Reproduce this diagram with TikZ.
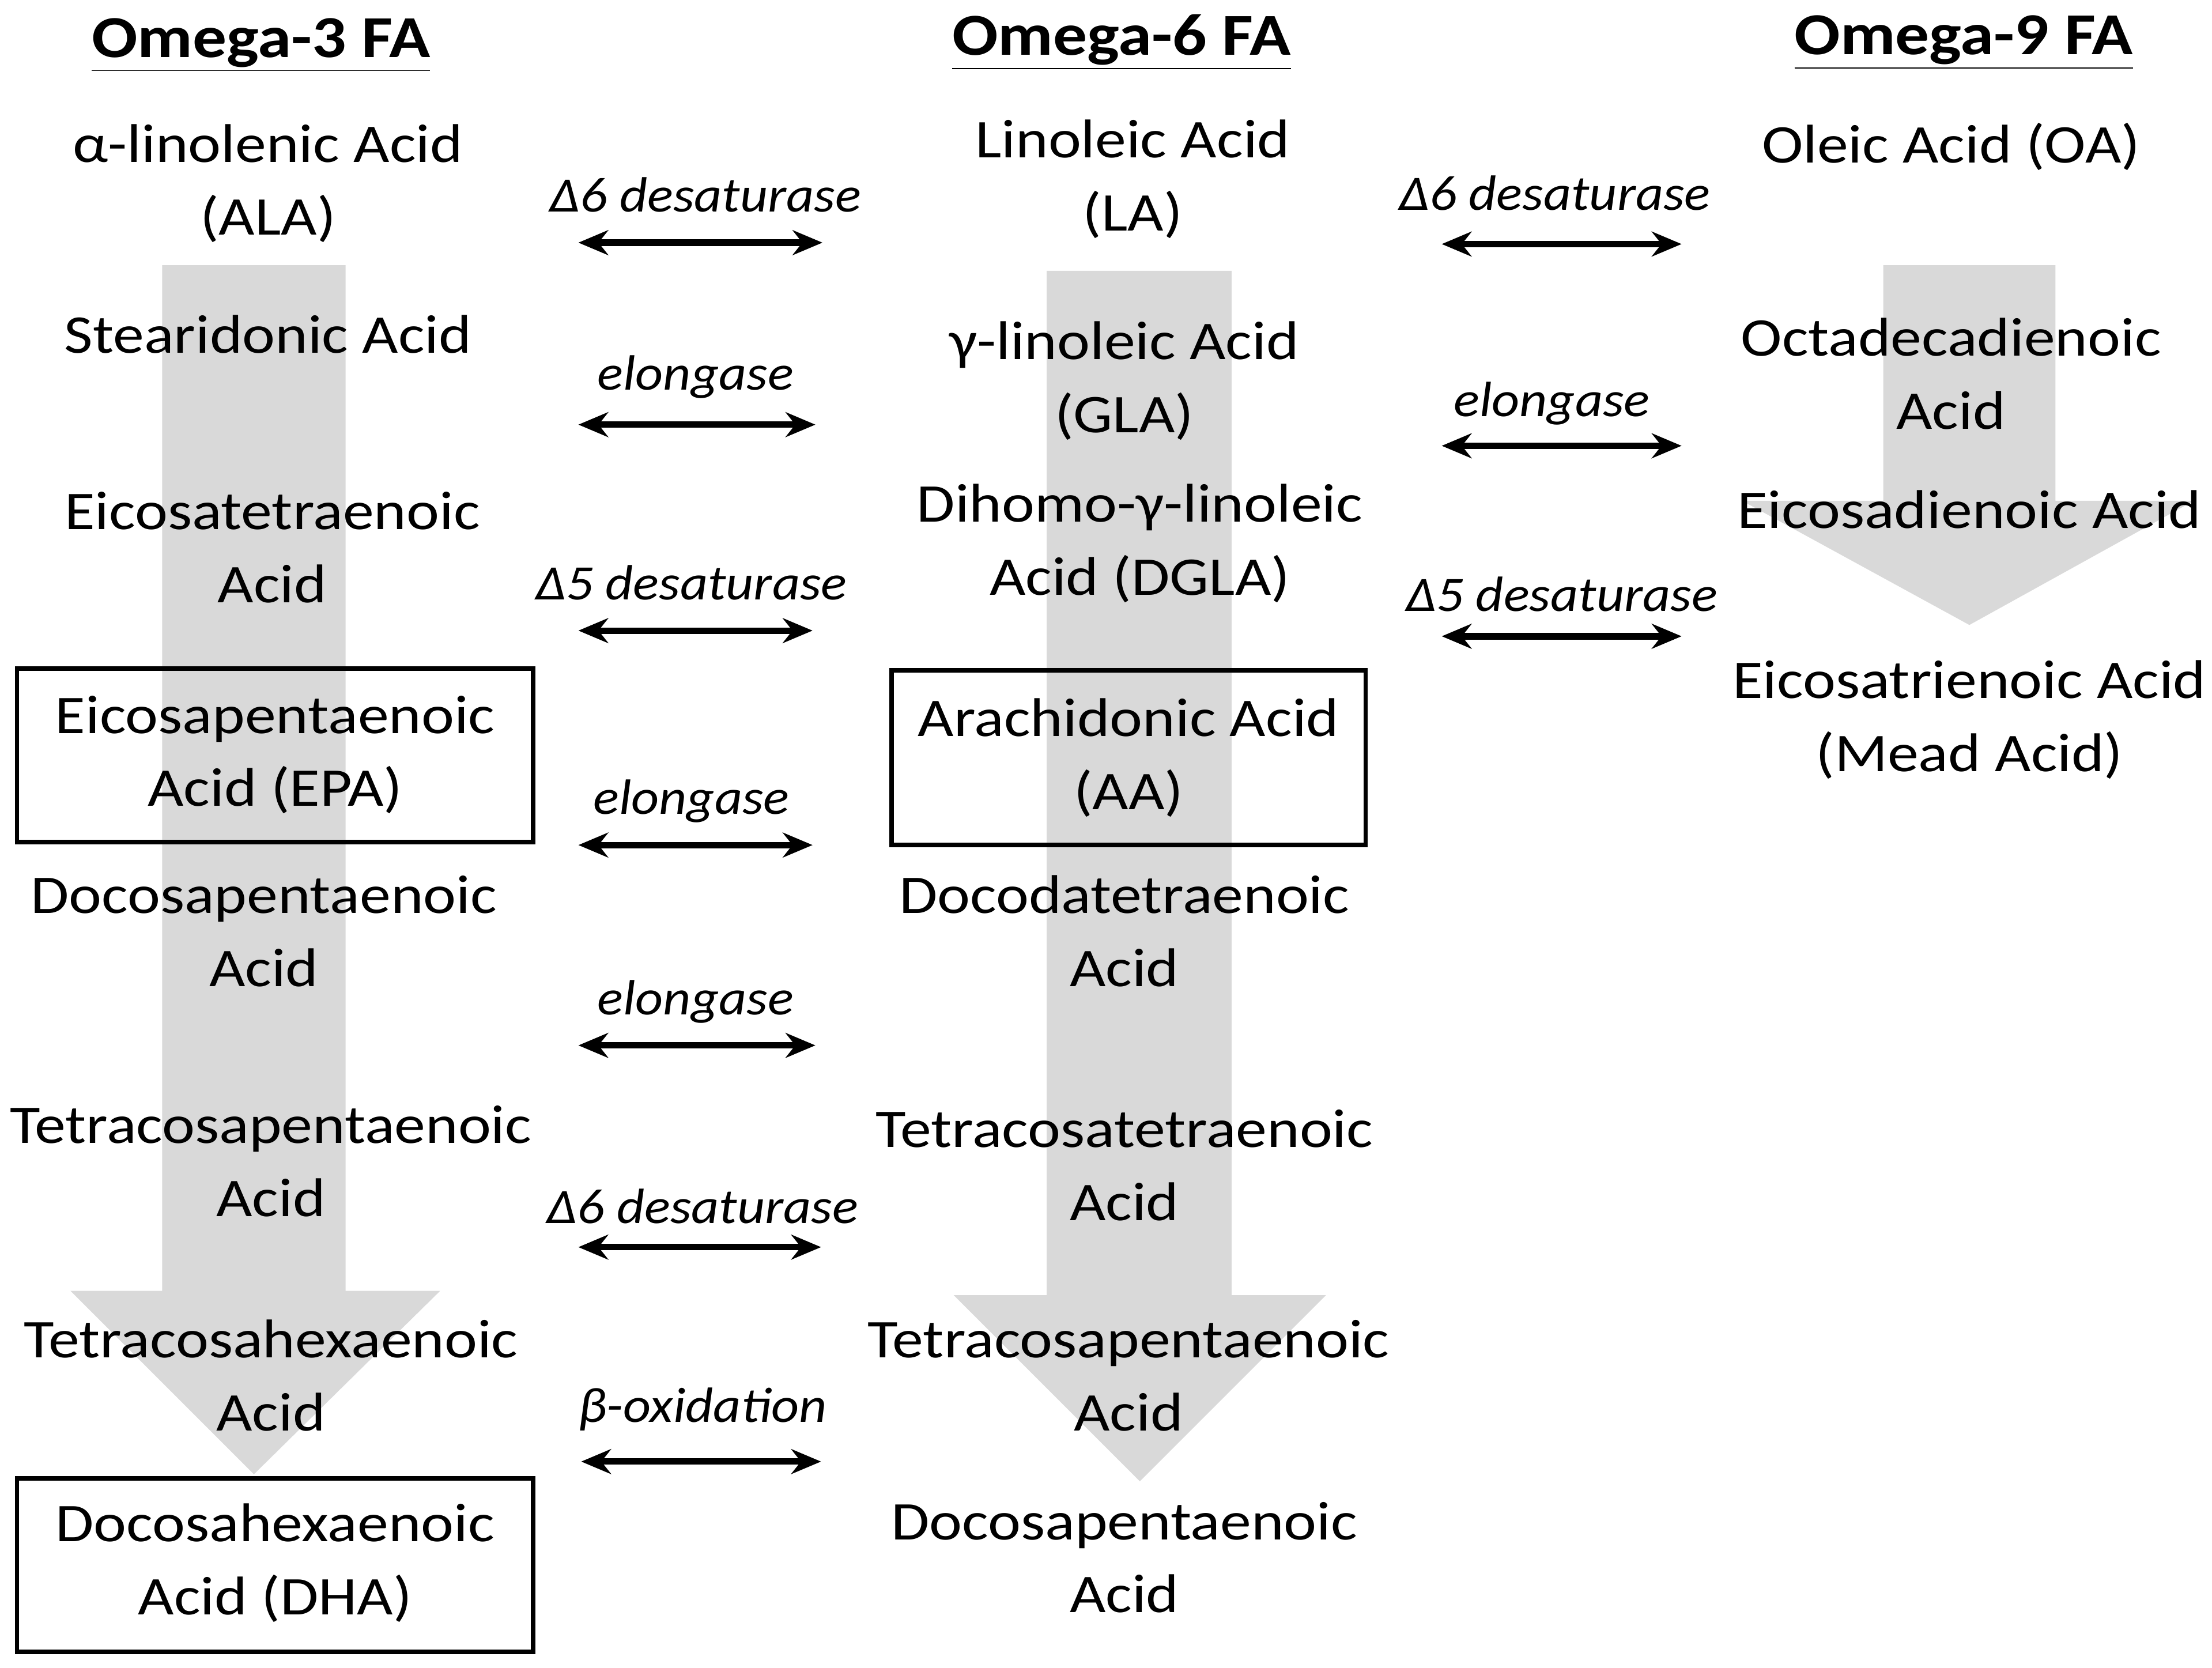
\documentclass[tikz,border=0pt]{standalone}
\usepackage{fontspec}
\setmainfont{Carlito}
\newfontfamily\widefont[FakeStretch=1.14]{Carlito}
\newfontfamily\enzfont[FakeStretch=1.09]{Carlito}
\usetikzlibrary{arrows.meta}
\begin{document}
\begin{tikzpicture}[x=0.02cm,y=-0.02cm,
 txt/.style={align=center,font=\widefont\fontsize{22}{29.5}\selectfont,inner sep=0pt},
 hdr/.style={font=\widefont\fontsize{24}{29}\selectfont\bfseries,inner sep=0pt},
 enz/.style={font=\enzfont\fontsize{20}{24}\selectfont\itshape,inner sep=0pt},
 box/.style={draw,line width=1.8pt},
 dbl/.style={{Stealth[length=12pt,width=10pt]}-{Stealth[length=12pt,width=10pt]},line width=2.6pt},
 big/.style={fill=black!15,draw=none}]
\useasboundingbox (0,0) rectangle (1568,1182);
% big gray arrows
\fill[big] (115,188)--(245,188)--(245,915)--(312,915)--(180,1045)--(50,915)--(115,915)--cycle;
\fill[big] (742,192)--(873,192)--(873,918)--(940,918)--(808,1050)--(676,918)--(742,918)--cycle;
\fill[big] (1335,188)--(1457,188)--(1457,355)--(1555,355)--(1396,443)--(1235,355)--(1335,355)--cycle;
% headers
\node[hdr] (h3) at (185,32) {\underline{Omega-3 FA}};
\node[hdr] (h6) at (795,30) {\underline{Omega-6 FA}};
\node[hdr] (h9) at (1392,30) {\underline{Omega-9 FA}};
% left
\node[txt] (ala) at (190,130) {α-linolenic Acid\\(ALA)};
\node[txt] (sda) at (190,237) {Stearidonic Acid};
\node[txt] (eta) at (193,388) {Eicosatetraenoic\\Acid};
\draw[box] (12,474) rectangle (378,597);
\node[txt] (epa) at (195,535) {Eicosapentaenoic\\Acid (EPA)};
\node[txt] (dpa) at (187,660) {Docosapentaenoic\\Acid};
\node[txt] (tpa) at (192,823) {Tetracosapentaenoic\\Acid};
\node[txt] (tha) at (192,975) {Tetracosahexaenoic\\Acid};
\draw[box] (12,1048) rectangle (378,1171);
\node[txt] (dha) at (195,1108) {Docosahexaenoic\\Acid (DHA)};
% middle
\node[txt] (la) at (803,127) {Linoleic Acid\\(LA)};
\node[txt] (gla) at (797,270) {γ-linoleic Acid\\(GLA)};
\node[txt] (dgla) at (808,385) {Dihomo-γ-linoleic\\Acid (DGLA)};
\draw[box] (632,475) rectangle (968,599);
\node[txt] (aa) at (800,537) {Arachidonic Acid\\(AA)};
\node[txt] (dta) at (797,660) {Docodatetraenoic\\Acid};
\node[txt] (tta) at (797,826) {Tetracosatetraenoic\\Acid};
\node[txt] (tpa6) at (800,975) {Tetracosapentaenoic\\Acid};
\node[txt] (dpa6) at (797,1104) {Docosapentaenoic\\Acid};
% right
\node[txt] (oa) at (1383,104) {Oleic Acid (OA)};
\node[txt] (oda) at (1383,265) {Octadecadienoic\\Acid};
\node[txt] (eda) at (1396,361) {Eicosadienoic Acid};
\node[txt] (mead) at (1396,510) {Eicosatrienoic Acid\\(Mead Acid)};
% enzymes
\node[enz] (e1) at (500,138) {Δ6 desaturase};
\node[enz] (e2) at (493,267) {elongase};
\node[enz] (e3) at (490,413) {Δ5 desaturase};
\node[enz] (e4) at (490,568) {elongase};
\node[enz] (e5) at (493,710) {elongase};
\node[enz] (e6) at (498,855) {Δ6 desaturase};
\node[enz] (e7) at (498,999) {β-oxidation};
\node[enz] (e8) at (1102,137) {Δ6 desaturase};
\node[enz] (e9) at (1100,286) {elongase};
\node[enz] (e10) at (1107,421) {Δ5 desaturase};
\foreach \n/\y/\a/\b in {1/172/410/583,2/301/410/578,3/447/410/576,4/599/410/576,5/741/410/578,6/884/410/582,7/1036/412/582,8/173/1022/1192,9/316/1022/1192,10/451/1022/1192}{
 \coordinate (a\n) at (\a,\y); \coordinate (b\n) at (\b,\y);
 \draw[dbl] (a\n) -- (b\n);}
\end{tikzpicture}
\end{document}
